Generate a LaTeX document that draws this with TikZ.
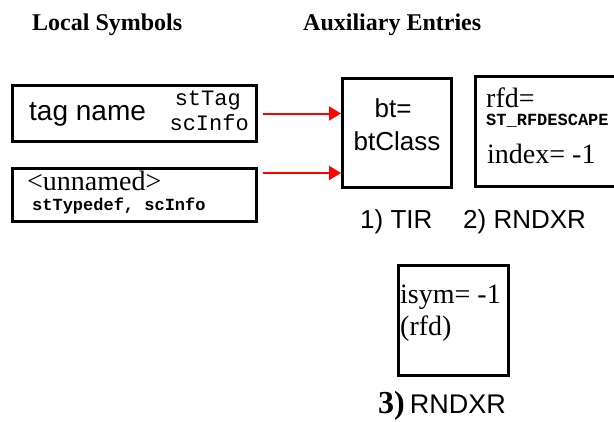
\documentclass[tikz,border=0pt]{standalone}
\usepackage{fontspec}
\setmainfont{Liberation Serif}
\setsansfont{Liberation Sans}
\setmonofont{Liberation Mono}
\usetikzlibrary{arrows.meta,positioning}

\newcommand{\fsz}[1]{\fontsize{#1}{#1}\selectfont}

\begin{document}
\begin{tikzpicture}[
    x=1pt, y=-1pt,
    box/.style={draw, line width=3pt, inner sep=0pt},
    txt/.style={inner sep=0pt, anchor=base west},
    head/.style={txt, font=\fsz{24}\bfseries},
    label/.style={txt, font=\fsz{26}\sffamily},
    code/.style={inner sep=0pt, font=\fsz{22}\ttfamily},
    link/.style={-{Triangle[length=12pt, width=14pt]}, red, line width=2pt}
  ]
    \useasboundingbox (0,0) rectangle (614,421);
    \clip (0,0) rectangle (614,421);
    % headings
    \node[head] (lochead) at (32,30) {Local Symbols};
    \node[head] (auxhead) at (303,30) {Auxiliary Entries};
    % local symbols
    \node[box, minimum width=244, minimum height=56] (tag) at (134.5,113.5) {};
    \node[txt, font=\fsz{28}\sffamily] (tagname) at (29,120) {tag name};
    \node[code, anchor=base east] (sttag) at (241,105) {stTag};
    \node[code, anchor=base east] (scinfo) at (249,130) {scInfo};
    \node[box, minimum width=244, minimum height=53] (unnamed) at (134.5,195) {};
    \node[txt, font=\fsz{28}] (unname) at (27,190) {<unnamed>};
    \node[code, txt, font=\fsz{17}\ttfamily\bfseries] (sttypedef) at (32,210) {stTypedef, scInfo};
    % auxiliary entries
    \node[box, minimum width=109, minimum height=109] (tir) at (397,133) {};
    \node[inner sep=0pt, anchor=base, font=\fsz{26}\sffamily] (bt) at (393,117) {bt=};
    \node[inner sep=0pt, anchor=base, font=\fsz{26}\sffamily] (btclass) at (397,150) {btClass};
    \node[box, minimum width=165, minimum height=110] (rndxr) at (558,131.5) {};
    \node[txt, font=\fsz{28}] (rfd) at (486,107) {rfd=};
    \node[code, txt, font=\fsz{17}\ttfamily\bfseries] (stesc) at (486,125) {ST\_RFDESCAPE};
    \node[txt, font=\fsz{28}] (index) at (487,163) {index= -1};
    \node[box, minimum width=110, minimum height=110] (isym) at (453.5,320.5) {};
    \node[txt, font=\fsz{28}] (isymval) at (400,303) {isym= -1};
    \node[txt, font=\fsz{28}] (isymrfd) at (400,335) {(rfd)};
    % captions
    \node[label] (tircap) at (360,228) {1) TIR};
    \node[label] (rndcap) at (463,228) {2)\ RNDXR};
    \node[txt] (isymcap) at (378,413) {{\fsz{32}\bfseries 3)}\hspace{5pt}{\fsz{27}\sffamily RNDXR}};
    % arrows
    \draw[link] ([xshift=5pt]tag.east) -- (tag.east -| tir.west);
    \draw[link] ([xshift=5pt,yshift=-6pt]unnamed.north east) coordinate (un) -- (un -| tir.west);
\end{tikzpicture}
\end{document}
